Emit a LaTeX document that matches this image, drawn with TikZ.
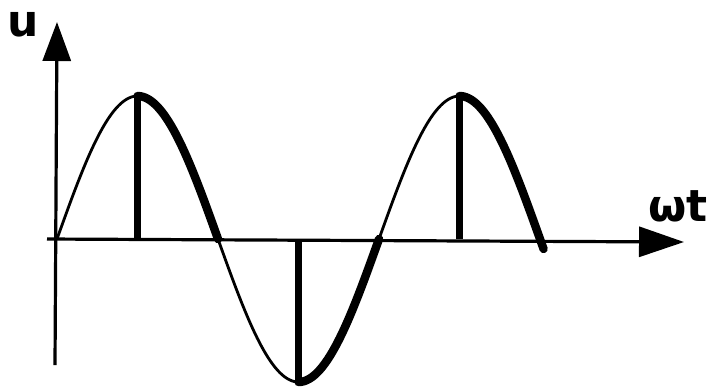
\documentclass[tikz,border=0pt]{standalone}
\usepackage{fontspec}
\setmainfont{DejaVu Sans}
\usetikzlibrary{arrows.meta}
\begin{document}
\begin{tikzpicture}[x=0.5pt,y=-0.5pt,
  axis/.style={line width=1.6pt},
  thinwave/.style={line width=1.4pt},
  thickwave/.style={line width=4.2pt, line cap=round},
  bar/.style={line width=3.2pt},
  lbl/.style={font=\bfseries\fontsize{22}{22}\selectfont, inner sep=0pt}]
\useasboundingbox (0,0) rectangle (715,388);
\def\xo{57}\def\yo{239}\def\per{322}\def\amp{143}
% axes
\coordinate (ybot) at (55,365);
\coordinate (ytop) at (57,22);
\coordinate (xleft) at (47,239);
\coordinate (xend) at (684,242);
\draw[axis,-{Triangle[length=19.5pt,width=14pt]}] (ybot) -- (ytop);
\draw[axis,-{Triangle[length=22.5pt,width=15pt]}] (xleft) -- (xend);
% wave
\draw[thinwave] plot[domain=0:90,samples=40] ({\xo+\x/360*\per},{\yo-\amp*sin(\x)});
\draw[thickwave] plot[domain=90:180,samples=40] ({\xo+\x/360*\per},{\yo-\amp*sin(\x)});
\draw[thinwave] plot[domain=180:270,samples=40] ({\xo+\x/360*\per},{\yo-\amp*sin(\x)});
\draw[thickwave] plot[domain=270:360,samples=40] ({\xo+\x/360*\per},{\yo-\amp*sin(\x)});
\draw[thinwave] plot[domain=360:450,samples=40] ({\xo+\x/360*\per},{\yo-\amp*sin(\x)});
\draw[thickwave] plot[domain=450:544,samples=40] ({\xo+\x/360*\per},{\yo-\amp*sin(\x)});
% vertical bars
\coordinate (p1) at ({\xo+\per/4},{\yo-\amp});
\coordinate (b1) at ({\xo+\per/4},\yo);
\coordinate (p2) at ({\xo+3*\per/4},{\yo+\amp});
\coordinate (b2) at ({\xo+3*\per/4},\yo);
\coordinate (p3) at ({\xo+5*\per/4},{\yo-\amp});
\coordinate (b3) at ({\xo+5*\per/4},\yo);
\draw[bar] (b1) -- (p1);
\draw[bar] (b2) -- (p2);
\draw[bar] (b3) -- (p3);
% labels
\node[lbl] (u) at (23,25) {u};
\node[lbl] (wt) at (678,206) {ωt};
\end{tikzpicture}
\end{document}
